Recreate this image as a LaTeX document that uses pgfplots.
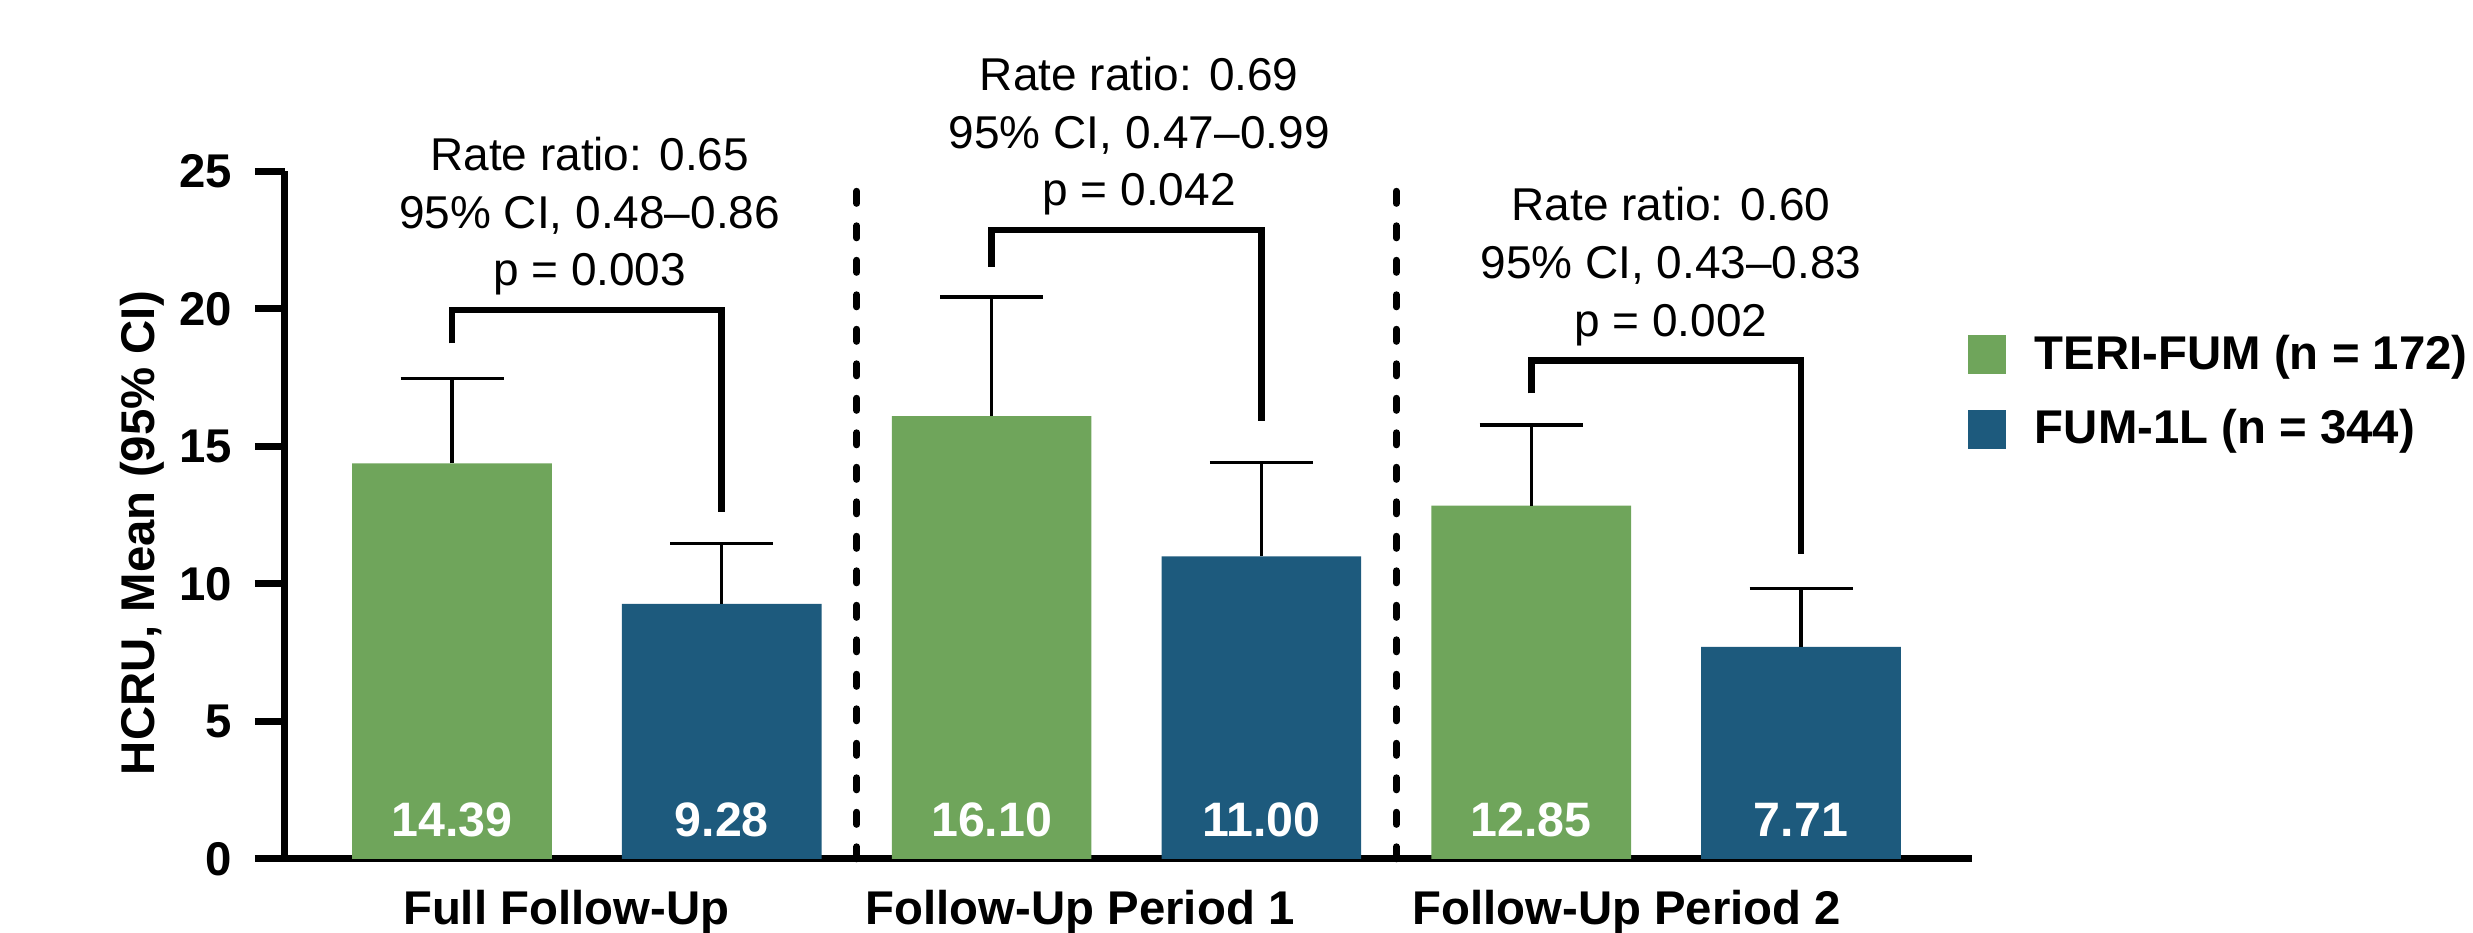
\documentclass[border=0pt]{standalone}
\usepackage{pgfplots}
\pgfplotsset{compat=1.18}
\usepackage{pgfplotstable}
\usepackage{fontspec}
\setmainfont{Liberation Sans}
\definecolor{tgreen}{RGB}{111,165,91}
\definecolor{tblue}{RGB}{29,90,125}
\newcommand{\bfs}{\fontsize{14.2}{17}\selectfont\bfseries}
\newcommand{\bfl}{\fontsize{14.5}{17}\selectfont\bfseries}
\newcommand{\rgs}{\fontsize{13.8}{16.5}\selectfont}

\pgfplotstableread{
x y e
0 14.39 3.09
2 16.10 4.33
4 12.85 2.93
}\greentab
\pgfplotstableread{
x y e
1 9.28 2.19
3 11.00 3.41
5 7.71 2.13
}\bluetab

\begin{document}
\begin{tikzpicture}
\begin{axis}[name=ax,
 width=506.2pt, height=206.25pt, scale only axis,
 xmin=-0.619, xmax=5.635, ymin=0, ymax=25,
 axis x line*=bottom, axis y line*=left,
 axis line style={-, line width=2.1pt},
 ytick={0,5,...,25},
 tick align=outside, major tick length=9pt,
 ytick style={line width=2.1pt, black},
 xtick={0.423,2.328,4.354},
 xticklabels={Full Follow-Up, Follow-Up Period 1, Follow-Up Period 2},
 xtick style={draw=none},
 tick label style={font=\bfs},
 /pgf/number format/assume math mode=true,
 xticklabel style={anchor=base, yshift=-10.8pt},
 yticklabel style={xshift=-3.3pt},
 ylabel={HCRU, Mean (95\% CI)},
 ylabel style={font=\bfs, at={([xshift=-42.75pt]rel axis cs:0,0.474)}, anchor=center},
 clip=false,
 legend style={at={(rel axis cs:0.9972,0.762)}, anchor=north west, draw=none, fill=none,
   inner sep=0pt, outer sep=0pt, font=\bfs, row sep=10.5pt, nodes={inner sep=0pt},
   /tikz/every odd column/.append style={column sep=8.7pt}},
 legend cell align=left,
]
\addplot[ybar, bar width=0.74, bar shift=0pt, fill=tgreen, draw=none,
  legend image code/.code={\fill[tgreen] (0pt,-5.85pt) rectangle (11.5pt,5.85pt);},
  error bars/.cd, y dir=plus, y explicit,
  error bar style={line width=1pt, black},
  error mark options={rotate=90, mark size=15.45pt, line width=1pt, black}]
  table[x=x, y=y, y error=e] {\greentab};
\addlegendentry{TERI-FUM (n = 172)}
\addplot[ybar, bar width=0.74, bar shift=0pt, fill=tblue, draw=none,
  legend image code/.code={\fill[tblue] (0pt,-5.85pt) rectangle (11.5pt,5.85pt);},
  error bars/.cd, y dir=plus, y explicit,
  error bar style={line width=1pt, black},
  error mark options={rotate=90, mark size=15.45pt, line width=1pt, black}]
  table[x=x, y=y, y error=e] {\bluetab};
\addlegendentry{FUM-1L (n = 344)}

% brackets
\addplot[black, line width=2pt, mark=none, line join=miter, forget plot] coordinates {(0,18.75) (0,19.96) (1,19.96) (1,12.61)};
\addplot[black, line width=2pt, mark=none, line join=miter, forget plot] coordinates {(2,21.54) (2,22.87) (3,22.87) (3,15.93)};
\addplot[black, line width=2pt, mark=none, line join=miter, forget plot] coordinates {(4,16.93) (4,18.12) (5,18.12) (5,11.09)};

% dividers
\addplot[black, line width=2pt, line cap=round, dash pattern=on 3.7pt off 6.65pt, mark=none, forget plot] coordinates {(1.5,0) (1.5,25)};
\addplot[black, line width=2pt, line cap=round, dash pattern=on 3.7pt off 6.65pt, mark=none, forget plot] coordinates {(3.5,0) (3.5,25)};

% annotations
\node[anchor=base, font=\rgs] at (axis cs:0.51,25.05) {Rate ratio: 0.65};
\node[anchor=base, font=\rgs] at (axis cs:0.51,22.93) {95\% CI, 0.48–0.86};
\node[anchor=base, font=\rgs] at (axis cs:0.51,20.87) {p = 0.003};
\node[anchor=base, font=\rgs] at (axis cs:2.547,27.96) {Rate ratio: 0.69};
\node[anchor=base, font=\rgs] at (axis cs:2.547,25.84) {95\% CI, 0.47–0.99};
\node[anchor=base, font=\rgs] at (axis cs:2.547,23.78) {p = 0.042};
\node[anchor=base, font=\rgs] at (axis cs:4.518,23.21) {Rate ratio: 0.60};
\node[anchor=base, font=\rgs] at (axis cs:4.518,21.12) {95\% CI, 0.43–0.83};
\node[anchor=base, font=\rgs] at (axis cs:4.518,18.99) {p = 0.002};

% bar values
\node[anchor=base, text=white, font=\bfl] at (axis cs:0,0.81) {14.39};
\node[anchor=base, text=white, font=\bfl] at (axis cs:1,0.81) {9.28};
\node[anchor=base, text=white, font=\bfl] at (axis cs:2,0.81) {16.10};
\node[anchor=base, text=white, font=\bfl] at (axis cs:3,0.81) {11.00};
\node[anchor=base, text=white, font=\bfl] at (axis cs:4,0.81) {12.85};
\node[anchor=base, text=white, font=\bfl] at (axis cs:5,0.81) {7.71};
\end{axis}
\pgfresetboundingbox
\path[use as bounding box] ([xshift=-85.5pt,yshift=-22.2pt]ax.south west) rectangle ([xshift=150.2pt,yshift=51.45pt]ax.north east);
\end{tikzpicture}
\end{document}
